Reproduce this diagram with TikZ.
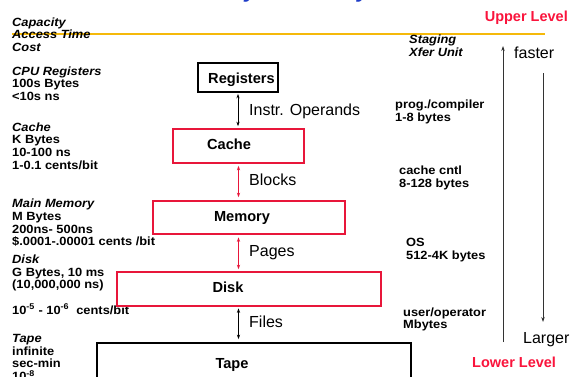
\documentclass[tikz,border=0pt]{standalone}
\usepackage{fontspec}
\setmainfont{Liberation Sans}
\newfontfamily\lblfont[FakeStretch=1.08]{Liberation Sans}
\usetikzlibrary{arrows.meta}
\definecolor{boxred}{RGB}{232,22,58}
\definecolor{txtred}{RGB}{250,20,60}
\definecolor{lineorange}{RGB}{245,185,10}
\definecolor{titleblue}{RGB}{30,60,200}
\begin{document}
\begin{tikzpicture}[x=1pt,y=-1pt,
  small/.style={font=\lblfont\fontsize{11.9}{12.6}\selectfont\bfseries, align=left, anchor=north west, inner sep=0pt},
  reglbl/.style={font=\fontsize{16}{18}\selectfont, anchor=base west, inner sep=0pt},
  lvl/.style={font=\fontsize{14.5}{16}\selectfont\bfseries, text=txtred, inner sep=0pt},
  boxtxt/.style={font=\fontsize{14.6}{16}\selectfont\bfseries, anchor=base, inner sep=0pt},
  blackbox/.style={draw=black, line width=1.8pt, inner sep=0pt},
  redbox/.style={draw=boxred, line width=1.6pt, inner sep=0pt},
  link/.style={{Stealth[length=4.5pt,width=3.2pt]}-{Stealth[length=4.5pt,width=3.2pt]}, line width=0.8pt},
  side/.style={-{Stealth[length=5pt,width=3.4pt]}, line width=0.8pt, draw=black!80}
]
\useasboundingbox (0,0) rectangle (578,376);
\clip (0,0) rectangle (578,376);
\fill[white] (0,0) rectangle (578,376);

% title (cut off at top)
\node[anchor=base west, font=\fontsize{23}{26}\selectfont\bfseries\itshape, text=titleblue, inner sep=0pt] (title) at (22,-3) {Levels of the Memory Hierarchy};

% orange rule
\coordinate (ruleL) at (12,34);
\coordinate (ruleR) at (545,34);
\draw[lineorange, line width=2.2pt] (ruleL) -- (ruleR);

% left column
\node[small] (hdr) at (12,17.2) {\textit{Capacity}\\\textit{Access Time}\\\textit{Cost}};
\node[small] (lreg) at (12,66.5) {\textit{CPU Registers}\\100s Bytes\\<10s ns};
\node[small] (lcache) at (12,122.5) {\textit{Cache}\\K Bytes\\10-100 ns\\1-0.1 cents/bit};
\node[small] (lmem) at (12,199) {\textit{Main Memory}\\M Bytes\\200ns- 500ns\\\$.0001-.00001 cents /bit};
\node[small] (ldisk) at (12,254.8) {\textit{Disk}\\G Bytes, 10 ms\\(10,000,000 ns)};
\node[small, anchor=base west] (ldiskc) at (12,314) {10\textsuperscript{-5} - 10\textsuperscript{-6}\ \ cents/bit};
\node[small] (ltape) at (12,334.2) {\textit{Tape}\\infinite\\sec-min\\10\textsuperscript{-8}};

% right column
\node[small] (stage) at (409,34.8) {\textit{Staging}\\\textit{Xfer Unit}};
\node[small] (rprog) at (395,99.8) {prog./compiler\\1-8 bytes};
\node[small] (rcache) at (399,165.8) {cache cntl\\8-128 bytes};
\node[small] (ros) at (406,238.2) {OS\\512-4K bytes};
\node[small] (ruser) at (403,307.5) {user/operator\\Mbytes};

\node[lvl, anchor=base east] (upper) at (568,21.7) {Upper Level};
\node[lvl, anchor=base west] (lower) at (472,367.7) {Lower Level};
\node[reglbl] (faster) at (514,58.3) {faster};
\node[reglbl] (larger) at (523,343.3) {Larger};

\coordinate (upS) at (503,342);
\coordinate (upE) at (503,46);
\draw[side] (upS) -- (upE);
\coordinate (dnS) at (543,73);
\coordinate (dnE) at (543,322);
\draw[side] (dnS) -- (dnE);

% boxes
\node[blackbox, minimum width=80pt, minimum height=29pt] (reg) at (238,77.5) {};
\node[redbox, minimum width=131pt, minimum height=34pt] (cache) at (238.5,146) {};
\node[redbox, minimum width=192pt, minimum height=33pt] (mem) at (249,217.5) {};
\node[redbox, minimum width=264pt, minimum height=34pt] (disk) at (249,289) {};
\node[blackbox, minimum width=314pt, minimum height=70pt] (tape) at (254,378) {};

\node[boxtxt] (tReg) at (241.5,83.3) {Registers};
\node[boxtxt] (tCache) at (229,149.5) {Cache};
\node[boxtxt] (tMem) at (242,221.5) {Memory};
\node[boxtxt] (tDisk) at (228,292.5) {Disk};
\node[boxtxt] (tTape) at (232,368.5) {Tape};

% connectors
\draw[link, shorten <=1pt, shorten >=2pt] (reg.south) -- (reg.south |- cache.north);
\draw[link, boxred, shorten <=2pt, shorten >=3pt] (cache.south) -- (cache.south |- mem.north);
\draw[link, boxred, shorten <=2.5pt, shorten >=2pt] (mem.south -| cache.south) -- (disk.north -| cache.south);
\draw[link, shorten <=1.5pt, shorten >=3pt] (disk.south -| cache.south) -- (tape.north -| cache.south);

\node[reglbl] (lInstr) at (249,115) {Instr. Operands};
\node[reglbl] (lBlocks) at (249,185) {Blocks};
\node[reglbl] (lPages) at (249,256.5) {Pages};
\node[reglbl] (lFiles) at (249,327.3) {Files};
\end{tikzpicture}
\end{document}
